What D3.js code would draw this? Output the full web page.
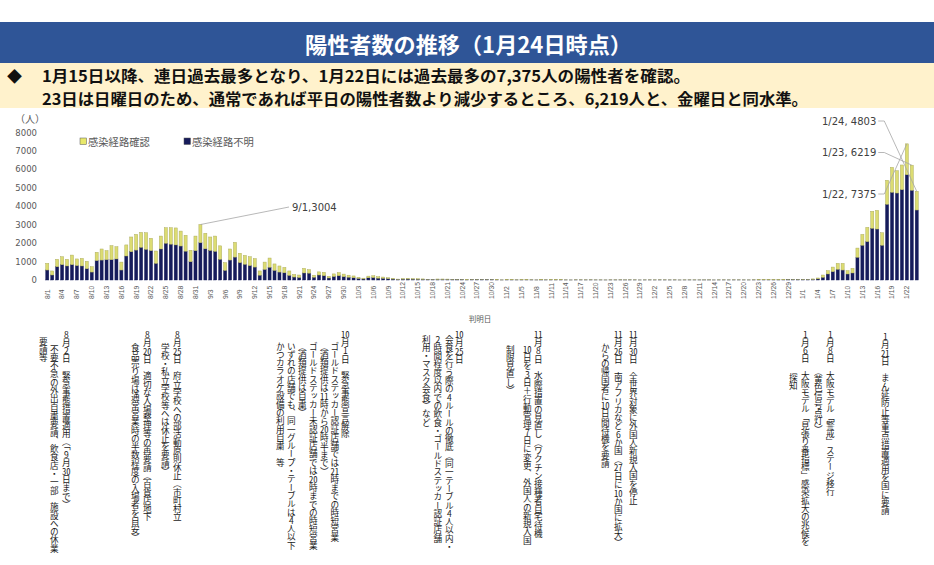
<!DOCTYPE html>
<html><head><meta charset="utf-8">
<script src="https://cdn.jsdelivr.net/npm/d3@7"></script>
<style>
body{margin:0;background:#fff;}
#wrap{position:relative;width:934px;height:565px;overflow:hidden;background:#fff;}
svg{position:absolute;left:0;top:0;}
.col{position:absolute;writing-mode:vertical-rl;text-orientation:upright;font-family:"Noto Sans CJK JP";font-size:8.6px;line-height:8.6px;color:#1a1a1a;white-space:nowrap;letter-spacing:-0.3px;}
.tcy{text-combine-upright:all;}
</style></head><body><div id="wrap"></div>
<script>
// ---------------- data ----------------
const categories = d3.timeDay.range(new Date(2021,7,1), new Date(2022,0,25))
  .map(d => `${d.getMonth()+1}/${d.getDate()}`);

const seriesNames = ["感染経路確認", "感染経路不明"];

// 感染経路不明 (navy, bottom)
const unknownCases = [
 540,270,720,830,760,830,780,760,610,430,
 1050,1080,1100,1100,1140,540,1300,1530,1620,1770,
 1660,1590,900,1680,1990,1940,1900,1840,1560,990,
 1590,2020,1690,1600,1550,1120,520,1080,1240,940,
 850,780,700,260,570,690,520,430,390,250,
 160,135,380,370,150,270,230,110,190,230,
 180,150,120,85,55,120,130,100,90,70,
 50,30,45,50,45,40,35,25,18,30,
 30,28,25,20,16,9,20,22,18,14,16,10,
 3,9,9,6,7,9,7,3,8,6,7,7,8,4,2,6,6,5,7,4,4,2,5,5,6,4,6,5,2,4,
 5,4,6,5,4,5,2,4,5,4,4,4,5,2,4,5,4,5,5,4,3,6,8,9,10,7,7,11,14,18,15,
 20,18,32,60,145,325,450,580,540,325,380,1230,1880,2080,2800,2760,1880,4100,4750,4710,4890,5700,4860,3790
];
// 感染経路確認 (yellow, top)
const confirmedCases = [
 360,220,400,430,360,520,360,410,400,290,
 450,600,490,760,660,430,600,800,850,810,
 900,670,670,700,840,890,920,810,860,620,
 790,984,840,730,830,730,420,600,800,510,
 480,480,460,230,400,500,350,330,290,240,
 140,135,250,190,110,170,185,90,140,170,
 140,110,100,65,45,90,100,80,70,55,
 40,20,35,35,30,30,25,15,12,25,
 25,22,17,15,12,6,16,16,12,11,12,8,
 3,7,8,5,6,7,5,2,6,5,6,6,6,3,1,5,5,4,5,3,4,2,5,4,5,3,5,4,1,3,
 4,4,5,4,3,5,2,4,4,4,3,3,4,1,4,4,3,5,4,3,3,6,7,8,9,6,7,11,14,17,15,
 20,17,28,50,125,180,250,320,360,180,250,500,590,770,920,1010,680,1300,1350,1210,1340,1675,1359,1013
];

const yTicks = [0,1000,2000,3000,4000,5000,6000,7000,8000];
const xTickLabels = categories.filter((d,i) => i % 3 === 0);

const titleText = "陽性者数の推移（1月24日時点）";
const summaryLines = [
  "1月15日以降、連日過去最多となり、1月22日には過去最多の7,375人の陽性者を確認。",
  "23日は日曜日のため、通常であれば平日の陽性者数より減少するところ、6,219人と、金曜日と同水準。"
];
const pointLabels = [
  {date:"9/1",  text:"9/1,3004"},
  {date:"1/24", text:"1/24, 4803"},
  {date:"1/23", text:"1/23, 6219"},
  {date:"1/22", text:"1/22, 7375"}
];
const events = [
  {cols:["8月2日　緊急事態措置適用（「9月30日まで）","不要不急の外出自粛要請、飲食店・一部 施設への休業","要請等"]},
  {cols:["8月20日　適切な入場整理等の再要請（百貨店地下","食品売り場は通常営業時の半数程度の入場者を目安）"]},
  {cols:["8月25日　府立学校への部活動原則休止（市町村立","学校・私立学校等へは休止を要請）"]},
  {cols:["10月1日　緊急事態宣言解除","ゴールドステッカー認証店舗では21時までの時短営業","（酒類提供は11時から20時半まで）","ゴールドステッカー未認証店舗では20時までの時短営業","（酒類提供は自粛）","いずれの店舗でも、同一グループ・テーブルは4人以下","かつカラオケ設備の利用自粛　等"]},
  {cols:["10月25日","会食を行う際の4ルールの徹底（同一テーブル4人以内・","2時間程度以内での飲食・ゴールドステッカー認証店舗","利用・マスク会食）など"]},
  {cols:["11月8日　水際措置の見直し（ワクチン接種者自宅待機","10日を3日＋行動管理7日に変更、外国人の新規入国","制限見直し）"]},
  {cols:["11月26日　南アフリカなど6か国（27日に10か国に拡大）","からの帰国者に10日間待機を要請"]},
  {cols:["11月30日　全世界対象に外国人新規入国を停止"]},
  {cols:["1月6日　大阪モデル「見張り番指標」感染拡大の兆候を","探知"]},
  {cols:["1月8日　大阪モデル「警戒」ステージ移行","（黄色信号点灯）"]},
  {cols:["1月21日　まん延防止等重点措置適用を国に要請"]}
];

// ---------------- layout ----------------
const W = 934, H = 565;
const colors = {confirmed:"#dcdc72", confirmedStroke:"#a9a95a", unknown:"#161b5b"};
const wrap = d3.select("#wrap");
const svg = wrap.append("svg").attr("width", W).attr("height", H);

// header
svg.append("rect").attr("x",0).attr("y",22).attr("width",W).attr("height",41).attr("fill","#2f5597");
svg.append("text").attr("x",305).attr("y",43).attr("dominant-baseline","central")
  .attr("textLength",327).attr("lengthAdjust","spacingAndGlyphs")
  .style("font-family","Noto Sans CJK JP").style("font-weight","700").style("font-size","22px")
  .attr("fill","#fff").text(titleText);
svg.append("rect").attr("x",0).attr("y",63).attr("width",W).attr("height",45).attr("fill","#fff2cc");
svg.append("text").attr("x",7).attr("y",75).attr("dominant-baseline","central")
  .style("font-family","Noto Sans CJK JP").style("font-size","15px").attr("fill","#111").text("◆");
const lineLens = [648, 766];
const lineYs = [75, 97.5];
summaryLines.forEach((t,i) => {
  svg.append("text").attr("x",42).attr("y",lineYs[i]).attr("dominant-baseline","central")
    .attr("textLength",lineLens[i]).attr("lengthAdjust","spacingAndGlyphs")
    .style("font-family","Noto Sans CJK JP").style("font-weight","700").style("font-size","15.4px")
    .attr("fill","#111").text(t);
});

// scales
const x = d3.scaleBand().domain(categories).range([44.8, 919.2]).paddingInner(0.38).paddingOuter(0.19);
const y = d3.scaleLinear().domain([0,8000]).range([280, 132.3]);

// stacked bars
const rows = categories.map((c,i) => ({date:c, unknown:unknownCases[i], confirmed:confirmedCases[i]}));
const stack = d3.stack().keys(["unknown","confirmed"])(rows);
const g = svg.append("g");
stack.forEach(layer => {
  const isU = layer.key === "unknown";
  g.append("g").selectAll("rect").data(layer).join("rect")
    .attr("x", d => x(d.data.date))
    .attr("width", x.bandwidth())
    .attr("y", d => y(d[1]))
    .attr("height", d => y(d[0]) - y(d[1]))
    .attr("fill", isU ? colors.unknown : colors.confirmed)
    .attr("stroke", isU ? colors.unknown : colors.confirmedStroke)
    .attr("stroke-width", 0.45);
});

// y axis
const ya = svg.append("g").attr("transform","translate(38,0)")
  .call(d3.axisLeft(y).tickValues(yTicks).tickFormat(d3.format("d")).tickSize(0).tickPadding(1));
ya.select(".domain").remove();
ya.selectAll("text").style("font-family","DejaVu Sans").style("font-size","8.5px").attr("fill","#595959");
svg.append("text").attr("x",15).attr("y",118).attr("dominant-baseline","central")
  .style("font-family","Noto Sans CJK JP").style("font-size","10px").attr("fill","#595959").text("（人）");

// x axis
const xa = svg.append("g").attr("transform","translate(0,280)")
  .call(d3.axisBottom(x).tickValues(xTickLabels).tickSize(0));
xa.select(".domain").remove();
xa.selectAll("text").attr("transform","rotate(-90)").attr("x",-19).attr("y",0).attr("dy","0.35em")
  .attr("text-anchor","start").style("font-family","Liberation Sans").style("font-size","6.8px").attr("fill","#595959");
svg.append("text").attr("x",480).attr("y",318).attr("text-anchor","middle").attr("dominant-baseline","central")
  .style("font-family","Noto Sans CJK JP").style("font-size","7.5px").attr("fill","#595959").text("判明日");

// legend
const legend = svg.append("g");
[{name:seriesNames[0], c:"#e8e86a", x:80},{name:seriesNames[1], c:colors.unknown, x:184}].forEach(l => {
  legend.append("rect").attr("x",l.x).attr("y",138).attr("width",6.5).attr("height",6.5)
    .attr("fill", l.c).attr("stroke","#555").attr("stroke-width",0.5);
  legend.append("text").attr("x",l.x+8).attr("y",141.5).attr("dominant-baseline","central")
    .style("font-family","Noto Sans CJK JP").style("font-size","10.3px").attr("fill","#595959").text(l.name);
});

// point labels with leader lines
const labelPos = {"9/1":{lx:292, ly:207}, "1/24":{lx:822, ly:121}, "1/23":{lx:822, ly:152.5}, "1/22":{lx:822, ly:194}};
pointLabels.forEach(p => {
  const i = categories.indexOf(p.date);
  const bx = x(p.date) + x.bandwidth()/2;
  const by = y(unknownCases[i] + confirmedCases[i]);
  const pos = labelPos[p.date];
  const t = svg.append("text").attr("x",pos.lx).attr("y",pos.ly).attr("dominant-baseline","central")
    .style("font-family","DejaVu Sans").style("font-size","10px").attr("fill","#404040").text(p.text);
  let pts;
  if (p.date === "9/1") pts = [[bx,by],[pos.lx-3,pos.ly]];
  else { const w = t.node().getComputedTextLength(); pts = [[pos.lx+w+2,pos.ly],[pos.lx+w+8,pos.ly],[bx,by]]; }
  svg.append("path").attr("d", d3.line()(pts)).attr("fill","none").attr("stroke","#a6a6a6").attr("stroke-width",0.8);
});

// vertical annotation text
const colPos = [
  [[66,330],[54,345],[43,337]],
  [[147,330],[135,343]],
  [[177,330],[165,343]],
  [[345,330],[334.5,342],[324,342],[313,342],[302,342],[291,342],[280,342]],
  [[459,330],[449,335],[437.5,335],[426,335]],
  [[538,330],[527,345],[510,345]],
  [[618,330],[605,343]],
  [[633,330]],
  [[805,330],[793,373]],
  [[830,330],[818,367]],
  [[885,332]]
];
const fs = 8.6;
events.forEach((ev,ei) => {
  ev.cols.forEach((txt,ci) => {
    const [cx,cy] = colPos[ei][ci];
    wrap.append("div").attr("class","col")
      .style("left",(cx - fs/2)+"px").style("top",cy+"px")
      .html(txt.replace(/(\d{2})/g,'<span class="tcy">$1</span>'));
  });
});
</script></body></html>
